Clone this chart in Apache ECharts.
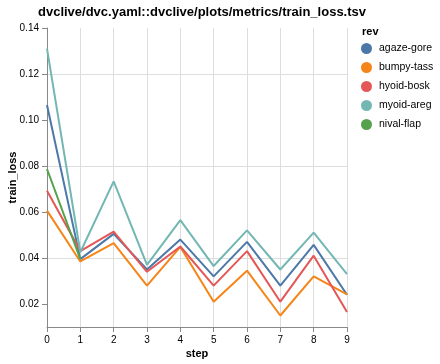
<!DOCTYPE html>
<html>
<head>
<meta charset="utf-8">
<script src="https://cdn.jsdelivr.net/npm/echarts@6/dist/echarts.min.js"></script>
<style>html,body{margin:0;padding:0;background:#fff}#c{width:440px;height:364px}</style>
</head>
<body>
<div id="c"></div>
<script>
const steps = [0, 1, 2, 3, 4, 5, 6, 7, 8, 9];
const revNames = ['agaze-gore', 'bumpy-tass', 'hyoid-bosk', 'myoid-areg', 'nival-flap'];
const agazeGore = [0.1065, 0.0395, 0.0505, 0.035, 0.048, 0.032, 0.047, 0.028, 0.0457, 0.024];
const bumpyTass = [0.0606, 0.0385, 0.0465, 0.028, 0.0448, 0.021, 0.0345, 0.015, 0.032, 0.0242];
const hyoidBosk = [0.0692, 0.043, 0.0515, 0.034, 0.045, 0.028, 0.043, 0.021, 0.041, 0.0165];
const myoidAreg = [0.131, 0.0425, 0.0733, 0.037, 0.0565, 0.0365, 0.052, 0.035, 0.051, 0.033];
const nivalFlap = [0.0787, 0.0395];
const yTicks = [0.02, 0.04, 0.06, 0.08, 0.10, 0.12, 0.14];
const colors = ['#4c78a8', '#f58518', '#e45756', '#72b7b2', '#54a24b'];

const seriesValues = [agazeGore, bumpyTass, hyoidBosk, myoidAreg, nivalFlap];
const font = 'Liberation Sans, Arial, Helvetica, sans-serif';

const chart = echarts.init(document.getElementById('c'), null, {renderer: 'canvas'});
chart.setOption({
  animation: false,
  color: colors,
  textStyle: {fontFamily: font},
  title: [
    {text: 'dvclive/dvc.yaml::dvclive/plots/metrics/train_loss.tsv', left: 197, top: 1, textAlign: 'center',
     textStyle: {fontSize: 13, fontWeight: 'bold', color: '#000', fontFamily: font}},
    {text: 'rev', left: 357, top: 21, textStyle: {fontSize: 11, fontWeight: 'bold', color: '#000', fontFamily: font}}
  ],
  legend: {
    orient: 'vertical', left: 356, top: 38, icon: 'circle', itemWidth: 11, itemHeight: 11, itemGap: 8,
    data: revNames,
    textStyle: {fontSize: 10.5, color: '#000', fontFamily: font, padding: [0, 0, 0, 2]}
  },
  grid: {left: 47, right: 93, top: 28, bottom: 37, containLabel: false, outerBoundsMode: 'none'},
  xAxis: {
    type: 'value', min: 0, max: 9, interval: 1,
    name: 'step', nameLocation: 'middle', nameGap: 21, nameMoveOverlap: false,
    nameTextStyle: {fontSize: 11, fontWeight: 'bold', color: '#000', fontFamily: font},
    axisLine: {show: true, onZero: false, lineStyle: {color: '#888', width: 1}},
    axisTick: {show: true, length: 5, lineStyle: {color: '#888'}},
    axisLabel: {fontSize: 10, color: '#000', margin: 8, fontFamily: font},
    splitLine: {show: true, lineStyle: {color: '#ddd', width: 1}}
  },
  yAxis: {
    type: 'value', min: 0.01, max: 0.14, interval: 0.01,
    name: 'train_loss', nameLocation: 'middle', nameGap: 29, nameMoveOverlap: false,
    nameTextStyle: {fontSize: 11, fontWeight: 'bold', color: '#000', fontFamily: font},
    axisLine: {show: true, onZero: false, lineStyle: {color: '#888', width: 1}},
    axisTick: {show: true, length: 5, lineStyle: {color: '#888'}, customValues: yTicks},
    axisLabel: {fontSize: 10, color: '#000', margin: 8, fontFamily: font, customValues: yTicks,
      formatter: v => v.toFixed(2)},
    splitLine: {show: true, lineStyle: {color: ['transparent', '#ddd'], width: 1}}
  },
  series: revNames.map((name, i) => ({
    name: name, type: 'line', showSymbol: false, symbol: 'none',
    lineStyle: {width: 2, color: colors[i]}, itemStyle: {color: colors[i]},
    data: seriesValues[i].map((v, j) => [steps[j], v])
  }))
});
</script>
</body>
</html>
